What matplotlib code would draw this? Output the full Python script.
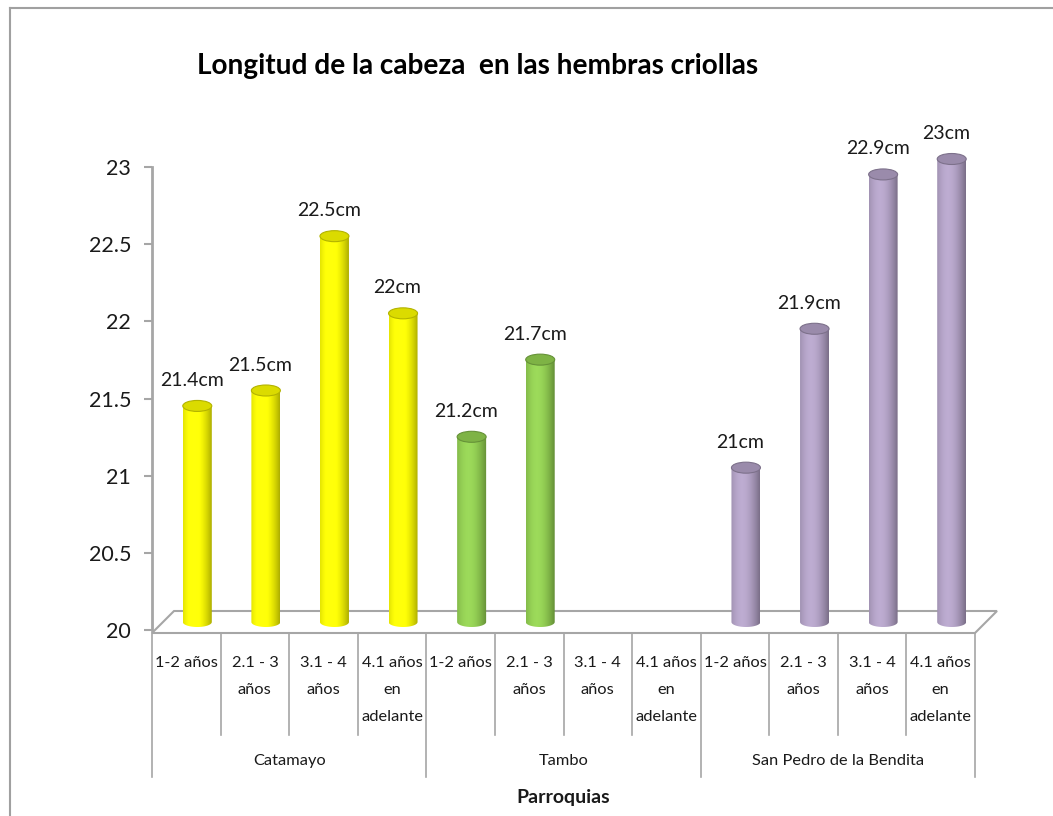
import matplotlib.pyplot as plt
import numpy as np
from matplotlib.patches import Ellipse, Polygon
from matplotlib.lines import Line2D
from matplotlib.colors import to_rgb

plt.rcParams['font.family'] = ['Lato', 'DejaVu Sans']

titulo = 'Longitud de la cabeza  en las hembras criollas'
parroquias = ['Catamayo', 'Tambo', 'San Pedro de la Bendita']
edades = ['1-2 años', '2.1 - 3\naños', '3.1 - 4\naños', '4.1 años\nen\nadelante']
catamayo = [21.4, 21.5, 22.5, 22.0]
tambo = [21.2, 21.7, None, None]
san_pedro = [21.0, 21.9, 22.9, 23.0]
colores = ['#ffff00', '#92d050', '#b3a2c7']

W, H = 1053, 816
fig = plt.figure(figsize=(W / 100, H / 100), dpi=100)
ax = fig.add_axes([152 / W, 186 / H, 823 / W, 463 / H])
ax.set_xlim(0, 12)
ax.set_ylim(20, 23)

# pixel sizes in data units
ux = 823 / 12
uy = 463 / 3
dx, dy = 22 / ux, 22 / uy          # floor depth
y0 = 20 - 3 / uy                   # front edge of the floor
hw, eh = 14.5 / ux, 5 / uy         # cylinder half width / ellipse half height
gris = '#a6a6a6'

# floor
piso = Polygon([(0, y0), (12, y0), (12 + dx, y0 + dy), (dx, y0 + dy)],
               closed=True, facecolor='white', edgecolor=gris, lw=1.5,
               clip_on=False, zorder=1)
ax.add_patch(piso)


def cilindro(xc, top, color):
    base = np.array(to_rgb(color))
    yb = y0 + dy / 2
    t = np.linspace(0, 1, 64)
    s = 1 - 0.32 * ((t - 0.38) / 0.62) ** 2
    img = np.clip(base[None, None, :] * s[None, :, None] + 0.04 * s[None, :, None] ** 8, 0, 1)
    ang = np.linspace(np.pi, 2 * np.pi, 40)
    pts = [(xc - hw, top)] + [(xc + hw * np.cos(a), yb + eh * np.sin(a)) for a in ang] + [(xc + hw, top)]
    clip = Polygon(pts, closed=True, transform=ax.transData)
    im = ax.imshow(img, extent=(xc - hw, xc + hw, yb - eh, top), aspect='auto',
                   interpolation='bilinear', zorder=3)
    im.set_clip_box(fig.bbox)
    im.set_clip_path(clip)
    tapa = Ellipse((xc, top), 2 * hw, 2.2 * eh, facecolor=base * 0.86,
                   edgecolor=base * 0.7, lw=0.8, zorder=4, clip_on=False)
    ax.add_patch(tapa)


series = [catamayo, tambo, san_pedro]
for g, (vals, col) in enumerate(zip(series, colores)):
    for k, v in enumerate(vals):
        if v is None:
            continue
        i = g * 4 + k
        xc = i + 0.5 + dx / 2
        top = v + dy / 2 + (y0 - 20)
        cilindro(xc, top, col)
        ax.text(i + 0.58, top + 20 / uy, f'{v:g}cm', ha='center', va='baseline',
                fontsize=14, color='#1a1a1a', zorder=5)

ax.set_xlim(0, 12)
ax.set_ylim(20, 23)

# value axis
for s in ['top', 'right', 'bottom']:
    ax.spines[s].set_visible(False)
ax.spines['left'].set_color(gris)
ax.spines['left'].set_linewidth(2)
ax.set_yticks(np.arange(20, 23.01, 0.5))
ax.set_yticklabels([f'{v:g}' for v in np.arange(20, 23.01, 0.5)])
ax.tick_params(axis='y', direction='out', length=6, width=1.5, color=gris,
               labelsize=15.5, pad=9, labelcolor='#1a1a1a')
ax.set_xticks([])
ax.patch.set_visible(False)

# category axis, two levels
for i in range(13):
    largo = 19.047 if i % 4 == 0 else 19.32
    ax.plot([i, i], [y0, largo], color=gris, lw=1.2, clip_on=False)
for g in range(3):
    for k, e in enumerate(edades):
        ax.text(g * 4 + k + 0.5, 20 - 26 / uy, e, ha='center', va='top',
                fontsize=11.8, linespacing=2.2, color='#1a1a1a')
    ax.text(g * 4 + 2, 20 - 131 / uy, parroquias[g], ha='center', va='center',
            fontsize=11.8, color='#1a1a1a')
ax.text(6, 20 - 167 / uy, 'Parroquias', ha='center', va='center',
        fontsize=14, fontweight='bold', color='#1a1a1a')

fig.text(478 / W, 1 - 66 / H, titulo, ha='center', va='center',
         fontsize=20.2, fontweight='bold', color='black')

# chart area border
fig.add_artist(Line2D([10 / W, 10 / W], [0, 1 - 8 / H], color='#a0a0a0', lw=1.5))
fig.add_artist(Line2D([10 / W, 1], [1 - 8 / H, 1 - 8 / H], color='#a0a0a0', lw=1.5))

fig.savefig('out.png', dpi=100)
